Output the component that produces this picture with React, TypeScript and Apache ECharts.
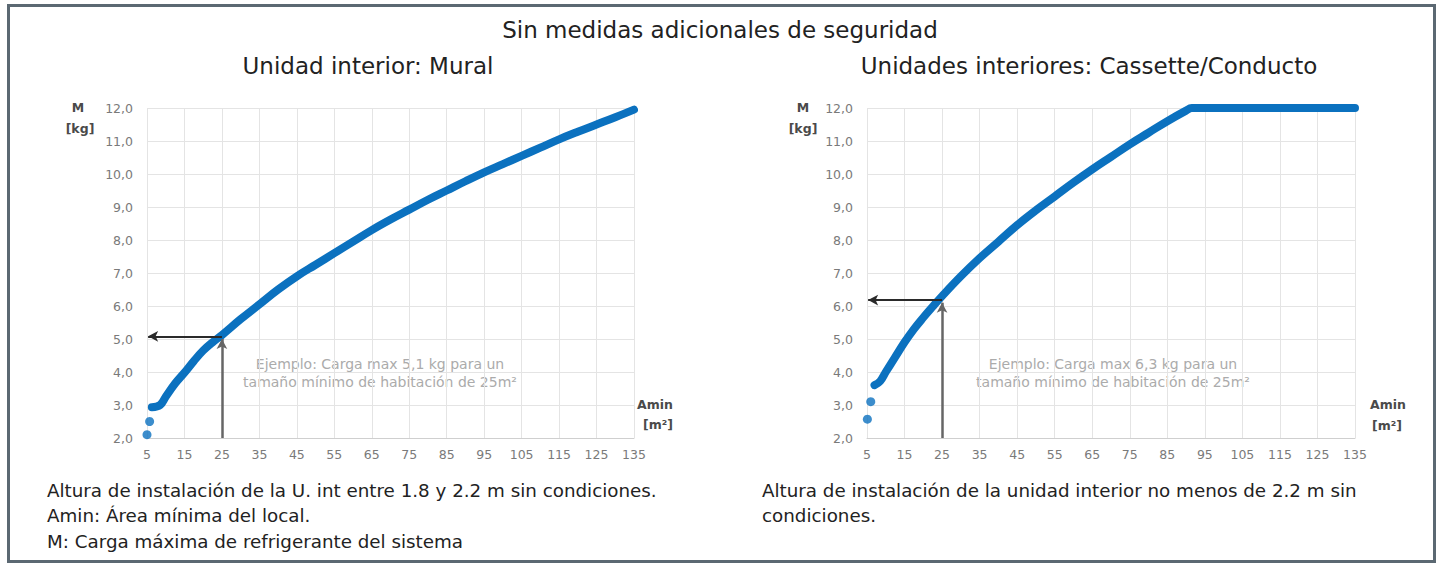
import React, { useEffect, useRef } from "react";
import * as echarts from "echarts";

// ---- Data ----
const muralArea = [6.3, 8.5, 10, 12.5, 15, 17.5, 20, 22.5, 25, 30, 35, 40, 45, 50, 55, 60, 65, 70, 75, 80, 85, 90, 95, 100, 105, 110, 115, 120, 125, 130, 135];
const muralCharge = [2.93, 3.0, 3.25, 3.65, 3.98, 4.33, 4.65, 4.9, 5.12, 5.6, 6.05, 6.5, 6.9, 7.25, 7.6, 7.95, 8.3, 8.62, 8.92, 9.22, 9.5, 9.78, 10.05, 10.3, 10.55, 10.8, 11.05, 11.28, 11.5, 11.72, 11.95];
const muralDotArea = [5.0, 5.7];
const muralDotCharge = [2.1, 2.5];
const muralExample = { area: 25, charge: 5.08, arrowTip: 5.0 };

const cassetteArea = [7, 8.5, 10, 12.5, 15, 17.5, 20, 22.5, 25, 30, 35, 40, 45, 50, 55, 60, 65, 70, 75, 80, 85, 90, 91.5, 95, 100, 105, 110, 115, 120, 125, 130, 135];
const cassetteCharge = [3.6, 3.72, 4.0, 4.45, 4.9, 5.3, 5.65, 5.98, 6.3, 6.9, 7.45, 7.95, 8.45, 8.9, 9.32, 9.74, 10.14, 10.52, 10.9, 11.25, 11.6, 11.92, 12.0, 12.0, 12.0, 12.0, 12.0, 12.0, 12.0, 12.0, 12.0, 12.0];
const cassetteDotArea = [5.1, 6.0];
const cassetteDotCharge = [2.57, 3.1];
const cassetteExample = { area: 25, charge: 6.18, arrowTip: 6.1 };

const areaMin = 5;
const areaMax = 135;
const areaStep = 10;
const chargeMin = 2;
const chargeMax = 12;
const chargeStep = 1;

const title = "Sin medidas adicionales de seguridad";
const subtitles = ["Unidad interior: Mural", "Unidades interiores: Cassette/Conducto"];
const exampleTexts = [
  ["Ejemplo: Carga max 5,1 kg para un", "tamaño mínimo de habitación de 25m²"],
  ["Ejemplo: Carga max 6,3 kg para un", "tamaño mínimo de habitación de 25m²"],
];
const notesLeft = [
  "Altura de instalación de la U. int entre 1.8 y 2.2 m sin condiciones.",
  "Amin: Área mínima del local.",
  "M: Carga máxima de refrigerante del sistema",
];
const notesRight = ["Altura de instalación de la unidad interior no menos de 2.2 m sin", "condiciones."];

const BLUE = "#0b71bf";
const FONT = "DejaVu Sans";

const zip = (a: number[], b: number[]) => a.map((v, i) => [v, b[i]]);

export default function App() {
  const ref = useRef<HTMLDivElement>(null);

  useEffect(() => {
    if (!ref.current) return;
    const chart = echarts.init(ref.current, undefined, { renderer: "svg" });

    const grids = [
      { left: 147, top: 108, width: 487, height: 330 },
      { left: 867, top: 108, width: 488, height: 330 },
    ];

    const xAxisBase = (gi: number) => ({
      type: "value",
      gridIndex: gi,
      min: areaMin,
      max: areaMax,
      interval: areaStep,
      axisLine: { show: true, lineStyle: { color: "#cfcfcf", width: 1 } },
      axisTick: { show: false },
      axisLabel: { color: "#7a7a7a", fontSize: 12.5, fontFamily: FONT, margin: 10 },
      splitLine: { show: true, lineStyle: { color: "#e4e4e4", width: 1 } },
    });
    const yAxisBase = (gi: number) => ({
      type: "value",
      gridIndex: gi,
      min: chargeMin,
      max: chargeMax,
      interval: chargeStep,
      axisLine: { show: false },
      axisTick: { show: false },
      axisLabel: {
        color: "#7a7a7a",
        fontSize: 12.5,
        fontFamily: FONT,
        margin: 14,
        formatter: (v: number) => v.toFixed(1).replace(".", ","),
      },
      splitLine: { show: true, lineStyle: { color: "#e4e4e4", width: 1 } },
    });

    const arrows = (ex: { area: number; charge: number; arrowTip: number }) => ({
      silent: true,
      symbol: ["none", "arrow"],
      symbolSize: [8, 10],
      label: { show: false },
      animation: false,
      data: [
        [
          { coord: [ex.area, ex.charge], lineStyle: { color: "#2a2a2a", width: 2, type: "solid" } },
          { coord: [areaMin + 0.3, ex.charge] },
        ],
        [
          { coord: [ex.area, chargeMin], lineStyle: { color: "#666666", width: 2.5, type: "solid" } },
          { coord: [ex.area, ex.arrowTip] },
        ],
      ],
    });

    const lineSeries = (gi: number, xs: number[], ys: number[]) => ({
      type: "line",
      xAxisIndex: gi,
      yAxisIndex: gi,
      data: zip(xs, ys),
      smooth: 0.4,
      symbol: "none",
      clip: false,
      lineStyle: { color: BLUE, width: 8, cap: "round", join: "round" },
      z: 3,
    });
    const dotSeries = (gi: number, xs: number[], ys: number[], ex: any) => ({
      type: "scatter",
      xAxisIndex: gi,
      yAxisIndex: gi,
      data: zip(xs, ys),
      symbolSize: 9,
      clip: false,
      itemStyle: { color: BLUE },
      markLine: arrows(ex),
      z: 4,
    });

    const txt = (x: number, y: number, text: string, opts: any = {}) => ({
      type: "text",
      x,
      y,
      style: {
        text,
        fontFamily: FONT,
        fontSize: opts.fontSize ?? 15,
        fontWeight: opts.fontWeight ?? "normal",
        fill: opts.fill ?? "#222222",
        align: opts.align ?? "left",
        verticalAlign: "middle",
      },
      silent: true,
    });

    const nameStyle = { fontSize: 12.5, fill: "#4a4a4a", align: "center", fontWeight: "bold" };

    const graphics: any[] = [
      {
        type: "rect",
        shape: { x: 8.5, y: 5.5, width: 1426, height: 556 },
        style: { fill: "none", stroke: "#5b6872", lineWidth: 3 },
        silent: true,
      },
      txt(720, 30, title, { fontSize: 23, align: "center" }),
      txt(368, 66, subtitles[0], { fontSize: 23, align: "center" }),
      txt(1089, 66, subtitles[1], { fontSize: 23, align: "center" }),
      // axis names
      txt(78, 107, "M", nameStyle),
      txt(80, 128, "[kg]", nameStyle),
      txt(803, 107, "M", nameStyle),
      txt(803, 128, "[kg]", nameStyle),
      txt(655, 404, "Amin", nameStyle),
      txt(658, 424, "[m²]", nameStyle),
      txt(1388, 404, "Amin", nameStyle),
      txt(1387, 425, "[m²]", nameStyle),
      // example annotations
      txt(380, 364, exampleTexts[0][0], { fontSize: 14, fill: "#ababab", align: "center" }),
      txt(380, 382, exampleTexts[0][1], { fontSize: 14, fill: "#ababab", align: "center" }),
      txt(1113, 364, exampleTexts[1][0], { fontSize: 14, fill: "#ababab", align: "center" }),
      txt(1113, 382, exampleTexts[1][1], { fontSize: 14, fill: "#ababab", align: "center" }),
    ];
    notesLeft.forEach((t, i) => graphics.push(txt(47, 490 + i * 25.5, t, { fontSize: 18.3 })));
    notesRight.forEach((t, i) => graphics.push(txt(762, 490 + i * 25.5, t, { fontSize: 18.3 })));

    chart.setOption({
      animation: false,
      grid: grids,
      xAxis: [xAxisBase(0), xAxisBase(1)],
      yAxis: [yAxisBase(0), yAxisBase(1)],
      series: [
        lineSeries(0, muralArea, muralCharge),
        dotSeries(0, muralDotArea, muralDotCharge, muralExample),
        lineSeries(1, cassetteArea, cassetteCharge),
        dotSeries(1, cassetteDotArea, cassetteDotCharge, cassetteExample),
      ],
      graphic: graphics,
    });

    return () => chart.dispose();
  }, []);

  return (
    <div
      ref={ref}
      style={{ position: "fixed", left: 0, top: 0, width: 1441, height: 563, background: "#ffffff" }}
    />
  );
}
